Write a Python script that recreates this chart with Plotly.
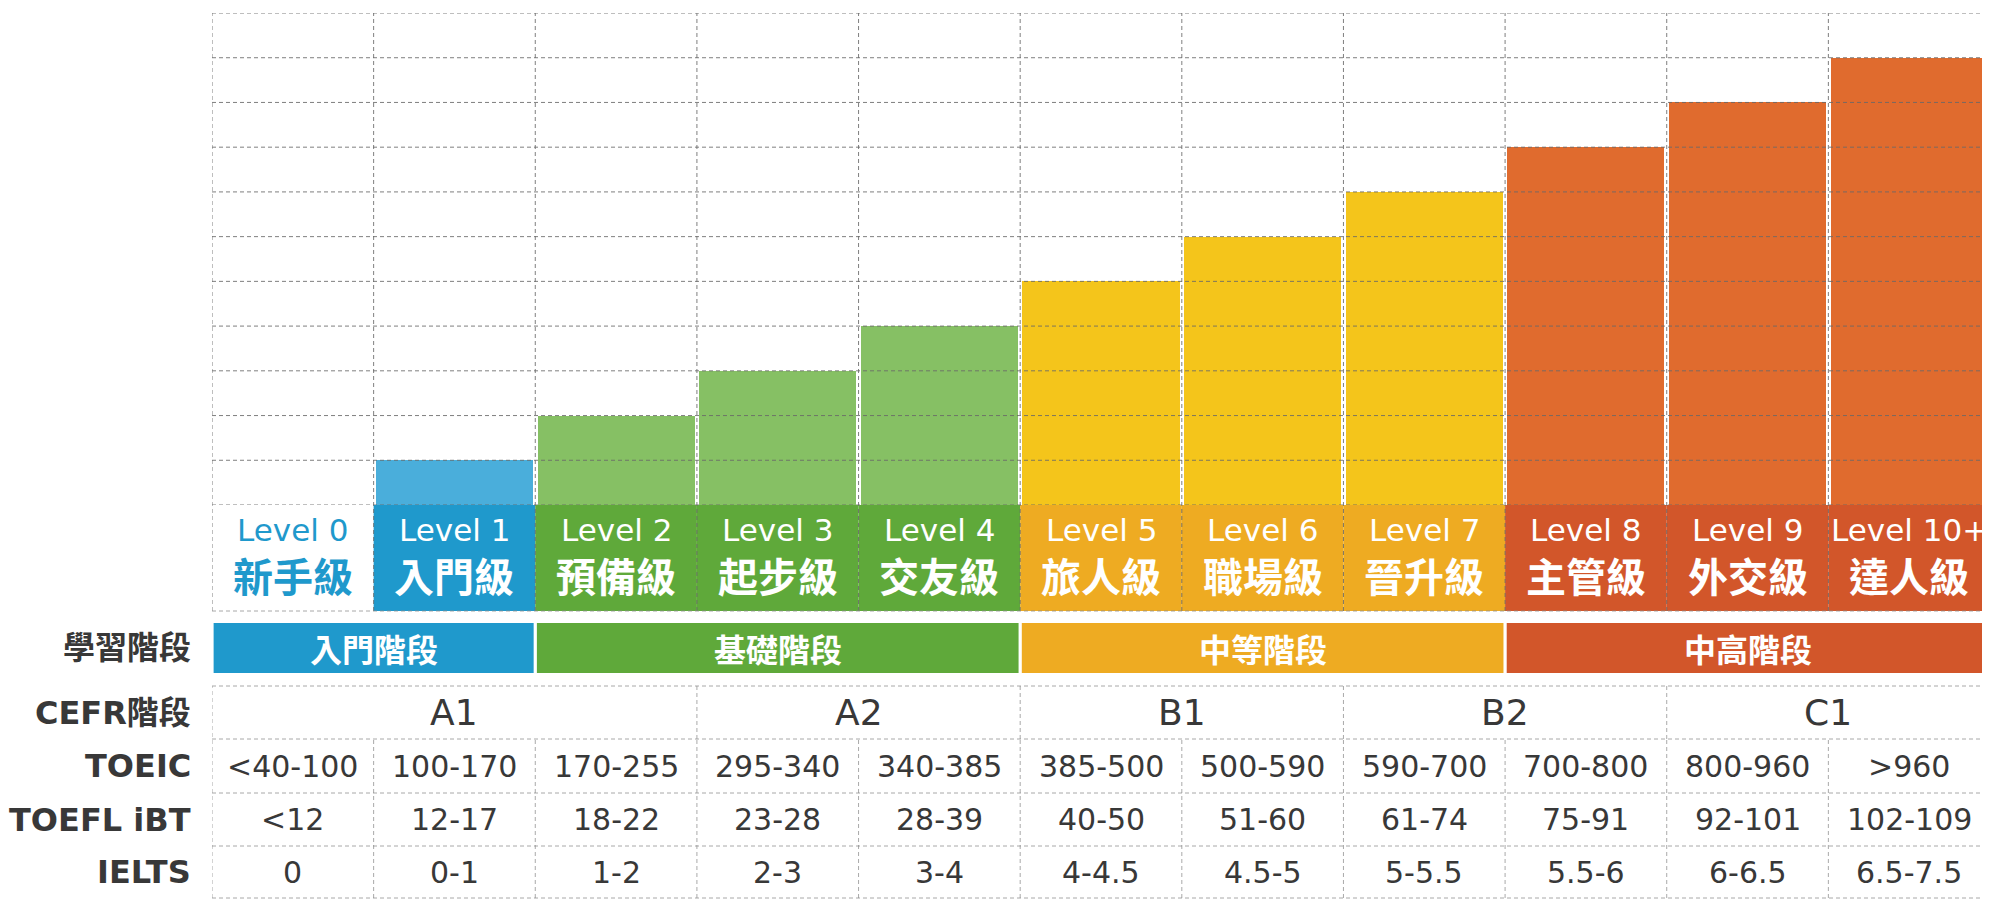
import plotly.graph_objects as go

# ---------------- data ----------------
levels = ["Level 0", "Level 1", "Level 2", "Level 3", "Level 4", "Level 5",
          "Level 6", "Level 7", "Level 8", "Level 9", "Level 10+"]
level_names = ["新手級", "入門級", "預備級", "起步級", "交友級", "旅人級",
               "職場級", "晉升級", "主管級", "外交級", "達人級"]
bar_values = [0, 1, 2, 3, 4, 5, 6, 7, 8, 9, 10]
level_stage = [0, 0, 1, 1, 1, 2, 2, 2, 3, 3, 3]

stage_names = ["入門階段", "基礎階段", "中等階段", "中高階段"]
stage_first = [0, 2, 5, 8]
stage_last = [1, 4, 7, 10]

cefr_levels = ["A1", "A2", "B1", "B2", "C1"]
cefr_first = [0, 3, 5, 7, 9]
cefr_last = [2, 4, 6, 8, 10]

toeic = ["<40-100", "100-170", "170-255", "295-340", "340-385", "385-500",
         "500-590", "590-700", "700-800", "800-960", ">960"]
toefl = ["<12", "12-17", "18-22", "23-28", "28-39", "40-50",
         "51-60", "61-74", "75-91", "92-101", "102-109"]
ielts = ["0", "0-1", "1-2", "2-3", "3-4", "4-4.5",
         "4.5-5", "5-5.5", "5.5-6", "6-6.5", "6.5-7.5"]
row_labels = ["學習階段", "CEFR階段", "TOEIC", "TOEFL iBT", "IELTS"]

# ---------------- layout constants (pixels in the page) ----------------
W, H = 1990, 903
OFF = 8  # page body margin offset
PLOT_LEFT, PLOT_RIGHT, PLOT_TOP, PLOT_BOTTOM = 212, 1990, 13, 505
LABEL_ROW = (505, 611)
BAND_ROW = (623, 673)
TABLE_EDGES = [686, 739, 793, 846, 898]
LEFT_LABEL_X = 193
LEVEL_Y, NAME_Y = 530, 575

bar_colors = ["#4aaedb", "#86c064", "#f4c51b", "#e06b2e"]
cell_colors = ["#1f99cc", "#5fa93a", "#eeab22", "#d2562a"]
GRID = "rgba(105,105,105,0.85)"
GRID_LIGHT = "rgba(140,140,140,0.75)"
TEXT = "#383838"
LATIN = "DejaVu Sans, Noto Sans CJK TC, sans-serif"
CJK = "Noto Sans CJK TC, sans-serif"
DASH = "4px,3px"


def py(px):
    return 1 - (px - OFF) / H


def pxx(px):
    return (px - OFF) / W


n = len(levels)
xs = list(range(n))

fig = go.Figure()
fig.add_trace(go.Bar(
    x=xs, y=bar_values, width=0.972,
    marker=dict(color=[bar_colors[s] for s in level_stage], line_width=0),
    customdata=[f"{a} {b}" for a, b in zip(levels, level_names)],
    hovertemplate="%{customdata}<extra></extra>",
    showlegend=False,
))

shapes = []
# level label cells
for i in xs:
    if bar_values[i] > 0:
        shapes.append(dict(type="rect", xref="x", yref="paper",
                           x0=i - 0.5, x1=i + 0.5, y0=py(LABEL_ROW[1]), y1=py(LABEL_ROW[0]),
                           fillcolor=cell_colors[level_stage[i]], line_width=0, layer="above"))
# stage bands
for s, (a, b) in enumerate(zip(stage_first, stage_last)):
    shapes.append(dict(type="rect", xref="x", yref="paper",
                       x0=a - 0.5 + 0.01, x1=b + 0.5 - 0.01,
                       y0=py(BAND_ROW[1]), y1=py(BAND_ROW[0]),
                       fillcolor=cell_colors[s], line_width=0, layer="above"))
# horizontal grid lines in chart area
for k in range(12):
    shapes.append(dict(type="line", xref="x", yref="y", x0=-0.5, x1=n - 0.5, y0=k, y1=k,
                       line=dict(color=GRID, width=1, dash=DASH), layer="above"))
# vertical grid lines through chart + label row
for b in range(n + 1):
    shapes.append(dict(type="line", xref="x", yref="paper", x0=b - 0.5, x1=b - 0.5,
                       y0=py(LABEL_ROW[1]), y1=py(PLOT_TOP),
                       line=dict(color=GRID, width=1, dash=DASH), layer="above"))
# bottom of label row
shapes.append(dict(type="line", xref="x", yref="paper", x0=-0.5, x1=n - 0.5,
                   y0=py(LABEL_ROW[1]), y1=py(LABEL_ROW[1]),
                   line=dict(color=GRID_LIGHT, width=1, dash=DASH), layer="above"))
# table horizontal lines
for e in TABLE_EDGES:
    shapes.append(dict(type="line", xref="x", yref="paper", x0=-0.5, x1=n - 0.5,
                       y0=py(e), y1=py(e),
                       line=dict(color=GRID_LIGHT, width=1, dash=DASH), layer="above"))
# table vertical lines
shapes.append(dict(type="line", xref="x", yref="paper", x0=-0.5, x1=-0.5,
                   y0=py(TABLE_EDGES[-1]), y1=py(TABLE_EDGES[0]),
                   line=dict(color=GRID_LIGHT, width=1, dash=DASH), layer="above"))
for f in cefr_first[1:]:
    shapes.append(dict(type="line", xref="x", yref="paper", x0=f - 0.5, x1=f - 0.5,
                       y0=py(TABLE_EDGES[1]), y1=py(TABLE_EDGES[0]),
                       line=dict(color=GRID_LIGHT, width=1, dash=DASH), layer="above"))
for b in range(1, n):
    shapes.append(dict(type="line", xref="x", yref="paper", x0=b - 0.5, x1=b - 0.5,
                       y0=py(TABLE_EDGES[-1]), y1=py(TABLE_EDGES[1]),
                       line=dict(color=GRID_LIGHT, width=1, dash=DASH), layer="above"))

ann = []
for i in xs:
    col = "#ffffff" if bar_values[i] > 0 else cell_colors[0]
    ann.append(dict(x=i, y=py(LEVEL_Y), xref="x", yref="paper", text=levels[i], showarrow=False,
                    font=dict(family=LATIN, size=31, color=col), xanchor="center", yanchor="middle"))
    ann.append(dict(x=i, y=py(NAME_Y), xref="x", yref="paper", text=level_names[i], showarrow=False,
                    font=dict(family=CJK, size=40, color=col, weight="bold"),
                    xanchor="center", yanchor="middle"))
for s, (a, b) in enumerate(zip(stage_first, stage_last)):
    ann.append(dict(x=(a + b) / 2, y=py((BAND_ROW[0] + BAND_ROW[1]) / 2), xref="x", yref="paper",
                    text=stage_names[s],
                    showarrow=False, font=dict(family=CJK, size=32, color="#ffffff", weight="bold"),
                    xanchor="center", yanchor="middle"))
for c, (a, b) in enumerate(zip(cefr_first, cefr_last)):
    ann.append(dict(x=(a + b) / 2, y=py((TABLE_EDGES[0] + TABLE_EDGES[1]) / 2), xref="x", yref="paper",
                    text=cefr_levels[c], showarrow=False,
                    font=dict(family=LATIN, size=36, color=TEXT), xanchor="center", yanchor="middle"))
for r, vals in enumerate([toeic, toefl, ielts]):
    yc = py((TABLE_EDGES[r + 1] + TABLE_EDGES[r + 2]) / 2)
    for i in xs:
        ann.append(dict(x=i, y=yc, xref="x", yref="paper",
                        text=vals[i].replace("<", "&lt;").replace(">", "&gt;"),
                        showarrow=False, font=dict(family=LATIN, size=30, color=TEXT),
                        xanchor="center", yanchor="middle"))
row_y = [(BAND_ROW[0] + BAND_ROW[1]) / 2] + [(TABLE_EDGES[j] + TABLE_EDGES[j + 1]) / 2 for j in range(4)]
for lbl, yv in zip(row_labels, row_y):
    ann.append(dict(x=pxx(LEFT_LABEL_X), y=py(yv), xref="paper", yref="paper", text=lbl,
                    showarrow=False, font=dict(family=LATIN, size=32, color=TEXT, weight="bold"),
                    xanchor="right", yanchor="middle"))

fig.update_layout(
    width=W, height=H,
    margin=dict(l=0, r=0, t=0, b=0),
    paper_bgcolor="#ffffff", plot_bgcolor="rgba(0,0,0,0)",
    bargap=0,
    xaxis=dict(domain=[pxx(PLOT_LEFT), pxx(PLOT_RIGHT)], range=[-0.5, n - 0.5],
               visible=False, fixedrange=True),
    yaxis=dict(domain=[py(PLOT_BOTTOM), py(PLOT_TOP)], range=[0, 11], visible=False, fixedrange=True),
    shapes=shapes, annotations=ann, showlegend=False,
)

fig.write_html("out.html")
